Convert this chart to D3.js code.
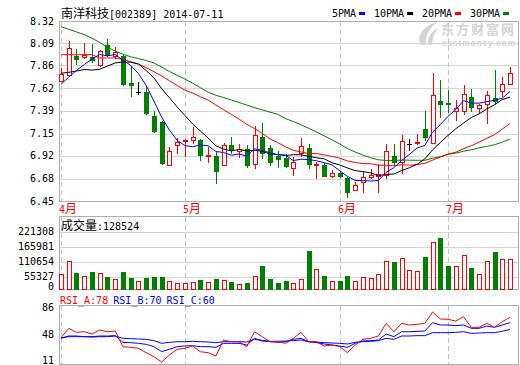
<!DOCTYPE html>
<html><head><meta charset="utf-8">
<script src="https://cdn.jsdelivr.net/npm/d3@7"></script>
<style>html,body{margin:0;padding:0;background:#fff;}svg{display:block;}</style>
</head><body>
<svg id="c" width="520" height="365"></svg>
<script>
const stockName = "南洋科技", stockCode = "002389", dateStr = "2014-07-11";
const opens = [7.70,7.76,7.96,7.95,7.95,7.86,8.07,7.96,7.96,7.68,
  7.58,7.58,7.33,7.27,6.82,7.03,7.07,7.08,7.08,6.92,
  6.92,6.82,7.03,6.97,6.99,6.83,7.12,7.00,6.92,6.90,
  6.79,6.95,7.00,6.82,6.82,6.71,6.74,6.69,6.56,6.65,
  6.70,6.71,6.72,6.92,6.85,7.04,7.05,7.20,7.05,7.49,
  7.47,7.38,7.38,7.53,7.42,7.46,7.52,7.59,7.67];
const highs = [7.83,8.11,8.03,8.09,8.08,8.02,8.13,8.05,7.97,7.85,
  7.69,7.64,7.38,7.28,7.01,7.10,7.09,7.22,7.09,7.01,
  6.96,7.05,7.11,7.04,7.03,7.23,7.26,7.03,6.97,6.94,
  6.91,7.10,7.04,6.86,6.84,6.77,6.76,6.70,6.65,6.76,
  6.78,6.83,7.04,7.04,7.14,7.09,7.15,7.38,7.78,7.71,
  7.60,7.50,7.65,7.61,7.46,7.59,7.81,7.74,7.84];
const lows = [7.70,7.76,7.87,7.94,7.89,7.85,7.96,7.94,7.65,7.54,
  7.56,7.35,7.17,6.83,6.82,6.95,6.92,7.05,6.88,6.85,
  6.64,6.82,6.95,6.91,6.80,6.79,6.90,6.82,6.80,6.80,
  6.72,6.92,6.79,6.69,6.71,6.70,6.70,6.49,6.56,6.54,
  6.69,6.54,6.69,6.83,6.74,6.98,7.04,7.08,7.05,7.32,
  7.37,7.29,7.35,7.39,7.36,7.26,7.46,7.54,7.67];
const closes = [7.77,8.04,7.93,7.97,7.91,8.01,7.97,8.00,7.67,7.65,
  7.58,7.36,7.18,6.84,6.97,7.06,7.08,7.12,6.93,6.93,
  6.76,7.03,6.98,6.99,6.82,7.14,6.95,6.85,6.89,6.81,
  6.85,7.02,6.83,6.83,6.71,6.74,6.71,6.54,6.62,6.70,
  6.72,6.73,6.97,6.86,7.07,7.04,7.06,7.11,7.55,7.46,
  7.46,7.42,7.56,7.43,7.45,7.55,7.49,7.67,7.78];
const volumes = [64700,121300,71500,57500,75800,71500,54500,44700,75800,50200,
  36200,50200,54500,54500,36200,28900,28900,31900,40400,33200,
  44700,40400,33200,23400,28900,57500,100000,44700,28900,36200,
  26400,44700,163900,86000,57500,36200,36200,57500,36200,51900,
  47700,66000,121300,118300,132800,83000,78700,139600,200900,221308,
  100000,100000,146800,90200,66000,121300,159600,128500,128524];
const ma5 = [7.662,7.738,7.806,7.868,7.924,7.972,7.958,7.972,7.912,7.860,
  7.774,7.652,7.488,7.322,7.186,7.082,7.026,7.014,7.032,7.024,
  6.964,6.954,6.926,6.938,6.916,6.992,6.976,6.950,6.930,6.928,
  6.870,6.884,6.880,6.868,6.848,6.826,6.764,6.706,6.664,6.662,
  6.658,6.662,6.748,6.796,6.870,6.934,7.000,7.028,7.166,7.244,
  7.330,7.402,7.492,7.468,7.466,7.482,7.496,7.518,7.588];
const ma10 = [7.777,7.787,7.800,7.816,7.810,7.818,7.852,7.884,7.894,7.892,
  7.873,7.805,7.730,7.617,7.523,7.428,7.339,7.251,7.177,7.105,
  7.023,6.990,6.970,6.985,6.970,6.978,6.965,6.938,6.934,6.922,
  6.931,6.930,6.915,6.899,6.888,6.848,6.824,6.793,6.766,6.755,
  6.742,6.713,6.727,6.730,6.766,6.796,6.831,6.888,6.981,7.057,
  7.132,7.201,7.260,7.317,7.355,7.406,7.449,7.505,7.528];
const ma20 = [7.970,7.970,7.970,7.970,7.970,7.936,7.936,7.936,7.920,7.897,
  7.873,7.835,7.793,7.749,7.700,7.650,7.603,7.572,7.534,7.499,
  7.448,7.398,7.350,7.301,7.247,7.203,7.152,7.095,7.056,7.014,
  6.977,6.960,6.943,6.942,6.929,6.913,6.895,6.866,6.850,6.839,
  6.837,6.822,6.821,6.815,6.827,6.822,6.828,6.841,6.874,6.906,
  6.937,6.957,6.994,7.024,7.061,7.101,7.140,7.197,7.255];
const ma30 = [8.261,8.234,8.206,8.179,8.141,8.097,8.048,8.007,7.975,7.948,
  7.930,7.909,7.884,7.842,7.796,7.756,7.717,7.674,7.627,7.580,
  7.549,7.525,7.499,7.473,7.447,7.420,7.396,7.373,7.350,7.306,
  7.276,7.242,7.205,7.167,7.127,7.085,7.043,6.994,6.959,6.927,
  6.899,6.878,6.871,6.871,6.875,6.874,6.873,6.873,6.894,6.911,
  6.935,6.948,6.967,6.982,7.003,7.017,7.035,7.062,7.092];
const rsiA = [47.4,61.5,55.5,56.4,53,59,56.4,57.5,33.9,33,
  31.5,25,19,11,21.5,30,31.5,35,26.4,25,
  20,44,41.4,41.4,33.9,56.4,48.9,41.4,42,39,
  46.5,55.5,41.4,41.4,35,36.5,34,25,36.5,45,
  46.5,50,69,56.4,69,66.5,67.5,69,86,75.5,
  75,72.5,79,63,63,69,63,71.4,78];
const rsiB = [46.5,50,50,49,49,50,50,50.5,40.5,40,
  39,37.5,34,26.5,30,34,35,35.5,34,34,
  33,39,39,39,36.5,46.5,42.5,41.4,40.5,41.4,
  45,46.5,41.4,40,38,36.5,35,33,39,42.5,
  43,44,53,49,56.4,56.4,57,57.5,70,66.5,
  66.5,65.5,66.5,61.5,61.5,65,63,66.5,70];
const rsiC = [47.4,49,49,49,48.5,49,49,50,46.5,46,
  45.5,45,43,39,40.5,41.4,41.4,42,41.4,41,
  40,41.4,41.4,41.4,41,45,43.5,42,42,42.5,
  43,44,41.4,41,40,39.5,39,38,40.5,41.4,
  42,43,46.5,45,50,50,50.5,50.5,55,55,
  55,55.5,56.4,54,54.5,55,55,57,60];
const priceTicks = [6.45,6.68,6.92,7.15,7.39,7.62,7.86,8.09,8.32];
const volTicks = [0,55327,110654,165981,221308];
const rsiTicks = [86,48,11];
const monthIdx = [0,16,36,50];
const monthLabels = ["4月","5月","6月","7月"];
const maNames = ["5PMA","10PMA","20PMA","30PMA"];
const rsiNames = ["RSI_A","RSI_B","RSI_C"];

const svg = d3.select("#c");
svg.append("rect").attr("width",520).attr("height",365).attr("fill","#fff");
const MONO = "'DejaVu Sans Mono', monospace";
const CJK = "'Noto Sans CJK SC', sans-serif";
const GRID = "#d6d6d6", BORDER = "#b0b0b0", DASH = "#c4c4c4";
const XL = 59.5, XR = 518.5;

function mixed(sel, str) {
  const runs = str.match(/[\u3000-\u9fff\uff00-\uffef]+|[^\u3000-\u9fff\uff00-\uffef]+/g);
  runs.forEach(r => {
    const isC = /[\u3000-\u9fff\uff00-\uffef]/.test(r);
    sel.append("tspan").text(r).attr("font-family", isC ? CJK : MONO).attr("font-size", isC ? 12 : 10);
  });
  return sel;
}

const n = closes.length;
const xs = d3.scaleLinear().domain([0, n - 1]).range([61, 510]);
const cxOf = i => Math.round(xs(i));
const py = d3.scaleLinear().domain([6.45, 8.32]).range([201, 21]);

const vTop = 216.5, vBot = 289.5;
const volAxis = d3.scaleLinear().domain([0, 221308]).range([291.5, 231.5]);
const volY = d3.scaleLinear().domain([0, d3.max(volumes)]).range([289.5, 237.5]);

const rTop = 305.5, rBot = 364.5;
const rsiAxis = d3.scaleLinear().domain([11, 86]).range([364, 305]);
const rsiY = d3.scaleLinear().domain([11, 86]).range([362, 312]);

const grid = svg.append("g").attr("shape-rendering","crispEdges");
priceTicks.forEach(t => {
  const y = Math.round(py(t)) + 0.5;
  grid.append("line").attr("x1",XL).attr("x2",XR).attr("y1",y).attr("y2",y).attr("stroke",GRID);
});
volTicks.forEach(t => {
  const y = Math.round(volAxis(t)) + 0.5;
  if (y < vBot - 1) grid.append("line").attr("x1",XL).attr("x2",XR).attr("y1",y).attr("y2",y).attr("stroke",GRID);
});
monthIdx.forEach(i => {
  const x = cxOf(i) + 0.5;
  [[21.5,201],[vTop,vBot],[rTop,rBot]].forEach(([a,b]) => {
    grid.append("line").attr("x1",x).attr("x2",x).attr("y1",a).attr("y2",b)
      .attr("stroke",DASH).attr("stroke-dasharray","5,3");
  });
});

// watermark
const wm = svg.append("g").attr("fill","#d4d4d4");
wm.append("path").attr("d","M421,45 C416,36 423,26 437,22 C429,29 425,36 426,45 Z");
wm.append("path").attr("d","M428,45 C427,38 431,31 438,28 C434,34 432,39 432,45 Z");
wm.append("text").attr("x",441).attr("y",34).attr("font-family",CJK).attr("font-weight","bold")
  .attr("font-size",13).attr("letter-spacing",2).text("东方财富网");
wm.append("text").attr("x",442).attr("y",45.8).attr("font-family","'Liberation Sans', sans-serif").attr("font-weight","bold")
  .attr("font-size",8.5).attr("textLength",73).attr("lengthAdjust","spacing").text("eastmoney.com");

// borders
const bd = svg.append("g").attr("fill","none").attr("stroke",BORDER).attr("shape-rendering","crispEdges");
bd.append("rect").attr("x",XL).attr("y",21.5).attr("width",XR-XL).attr("height",180);
bd.append("rect").attr("x",XL).attr("y",vTop).attr("width",XR-XL).attr("height",vBot-vTop);
bd.append("rect").attr("x",XL).attr("y",rTop).attr("width",XR-XL).attr("height",rBot-rTop);

// candles
const cg = svg.append("g").attr("shape-rendering","crispEdges");
closes.forEach((c, i) => {
  const o = opens[i], h = highs[i], l = lows[i];
  const cx = cxOf(i);
  const up = c > o, down = c < o;
  const col = up ? "#ff0000" : down ? "#008000" : "#000000";
  cg.append("line").attr("x1",cx+0.5).attr("x2",cx+0.5)
    .attr("y1",Math.round(py(h))).attr("y2",Math.round(py(l))+1).attr("stroke",col);
  const yt = Math.round(py(Math.max(o,c))), yb = Math.round(py(Math.min(o,c)));
  if (up) {
    cg.append("rect").attr("x",cx-1.5).attr("y",yt+0.5).attr("width",4).attr("height",Math.max(1,yb-yt))
      .attr("fill","#fff").attr("stroke",col);
  } else if (down) {
    cg.append("rect").attr("x",cx-2).attr("y",yt).attr("width",5).attr("height",Math.max(1,yb-yt+1)).attr("fill",col);
  } else {
    cg.append("line").attr("x1",cx-2).attr("x2",cx+3).attr("y1",yt+0.5).attr("y2",yt+0.5).attr("stroke",col);
  }
});

// MA lines
const maSeries = [ma5, ma10, ma20, ma30];
const maColors = ["#0000ff","#000000","#ff0000","#008000"];
const maLine = d3.line().x((d,i) => xs(i)).y(d => py(d));
[3,2,1,0].forEach(k => {
  svg.append("path").datum(maSeries[k]).attr("d",maLine).attr("fill","none")
    .attr("stroke",maColors[k]).attr("stroke-width",1);
});

// volume bars
const vg = svg.append("g").attr("shape-rendering","crispEdges");
volumes.forEach((v, i) => {
  const cx = cxOf(i);
  const down = closes[i] < opens[i];
  const top = Math.round(volY(v));
  if (down) {
    vg.append("rect").attr("x",cx-2).attr("y",top).attr("width",5).attr("height",Math.max(1,289-top+1)).attr("fill","#008000");
  } else {
    vg.append("rect").attr("x",cx-1.5).attr("y",top+0.5).attr("width",4).attr("height",Math.max(1,289-top))
      .attr("fill","#fff").attr("stroke","#ff0000");
  }
});

// RSI lines
const rLine = d3.line().x((d,i) => xs(i)).y(d => rsiY(d));
[[rsiC,"#0000ff"],[rsiB,"#0000ff"],[rsiA,"#ff0000"]].forEach(([arr,col]) => {
  svg.append("path").datum(arr).attr("d",rLine).attr("fill","none").attr("stroke",col).attr("stroke-width",1);
});

// axis labels
const lab = svg.append("g").attr("font-family",MONO).attr("font-size",10).attr("fill","#000").attr("text-anchor","end");
priceTicks.forEach(t => {
  lab.append("text").attr("x",54).attr("y",py(t)+3.6).text(t.toFixed(2));
});
volTicks.forEach(t => {
  const cy = Math.min(volAxis(t), vBot - 3.5);
  lab.append("text").attr("x",54).attr("y",cy+3.8).text(String(t));
});
rsiTicks.forEach(t => {
  const cy = Math.max(Math.min(rsiAxis(t), rBot - 4), rTop + 1.5);
  lab.append("text").attr("x",54).attr("y",cy+3.6).text(String(t));
});

// month labels
monthIdx.forEach((i, k) => {
  const t = svg.append("text").attr("x",cxOf(i)-2).attr("y",213).attr("fill","#ff0000");
  mixed(t, monthLabels[k]);
});

// title
mixed(svg.append("text").attr("x",61).attr("y",18).attr("fill","#000"),
  stockName + "[" + stockCode + "] " + dateStr);

// MA legend
let lx = 332;
maNames.forEach((nm, k) => {
  svg.append("text").attr("x",lx).attr("y",17).attr("font-family",MONO).attr("font-size",10).attr("fill","#000").text(nm);
  const w = nm.length * 6.02;
  svg.append("rect").attr("x",Math.round(lx + w + 3)).attr("y",12).attr("width",6).attr("height",3).attr("fill",maColors[k]);
  lx = Math.round(lx + w + 3) + 15;
});

// volume header
mixed(svg.append("text").attr("x",61).attr("y",230).attr("fill","#000"), "成交量:" + volumes[n-1]);

// RSI legend
const rsiVals = [rsiA, rsiB, rsiC];
const rsiCols = ["#ff0000","#0000ff","#0000ff"];
rsiNames.forEach((nm, k) => {
  svg.append("text").attr("x",60 + k*53.3).attr("y",303.5).attr("font-family",MONO).attr("font-size",10)
    .attr("fill",rsiCols[k]).text(nm + ":" + Math.round(rsiVals[k][n-1]));
});
</script>
</body></html>
